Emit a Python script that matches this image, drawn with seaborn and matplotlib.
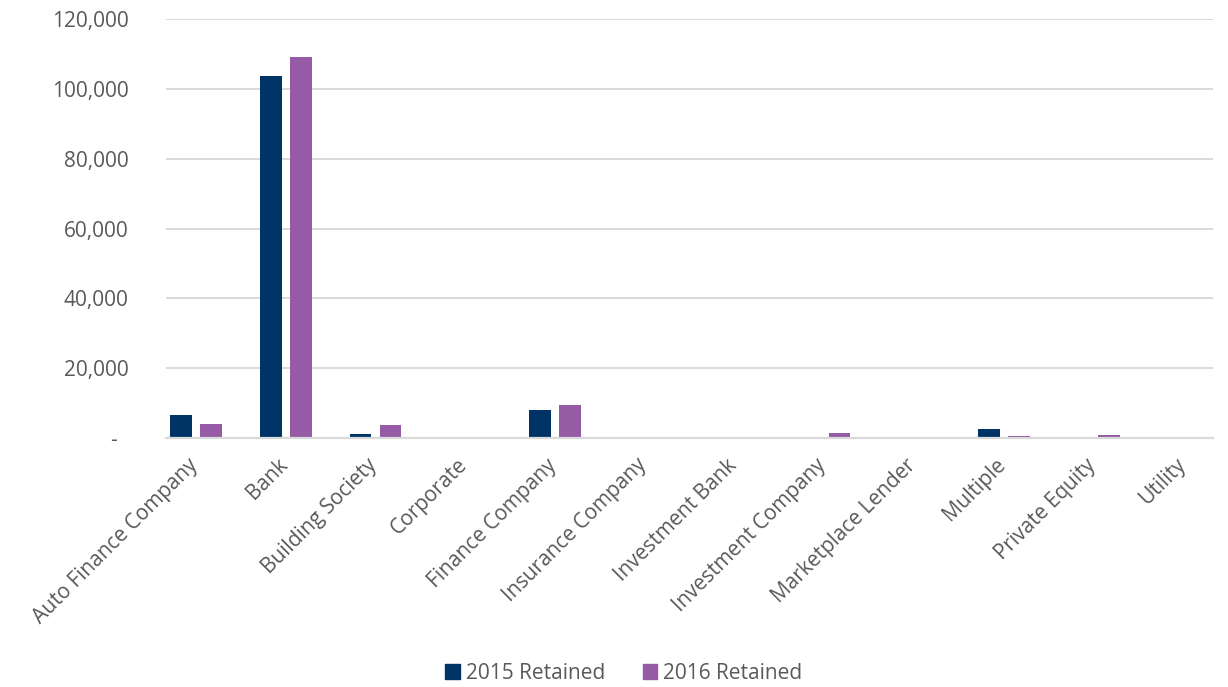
import matplotlib
matplotlib.use("Agg")
import matplotlib.pyplot as plt
from matplotlib.ticker import FuncFormatter
from matplotlib.transforms import ScaledTranslation
import pandas as pd
import seaborn as sns

categories = [
    "Auto Finance Company", "Bank", "Building Society", "Corporate",
    "Finance Company", "Insurance Company", "Investment Bank",
    "Investment Company", "Marketplace Lender", "Multiple",
    "Private Equity", "Utility",
]
retained_2015 = [6600, 103700, 1150, 0, 8000, 0, 0, 150, 0, 2650, 0, 0]
retained_2016 = [3900, 109100, 3600, 0, 9550, 0, 120, 1400, 0, 650, 900, 0]
series_names = ["2015 Retained", "2016 Retained"]
colors = ["#003366", "#955BA5"]
yticks = [0, 20000, 40000, 60000, 80000, 100000, 120000]

df = pd.DataFrame({
    "category": categories * 2,
    "value": retained_2015 + retained_2016,
    "series": [series_names[0]] * len(categories) + [series_names[1]] * len(categories),
})

sns.set_theme(style="white")
plt.rcParams["font.family"] = ["Open Sans", "DejaVu Sans"]
text_grey = "#595959"

fig = plt.figure(figsize=(12.28, 6.87), dpi=100)
ax = fig.add_axes([0.1352, 0.3624, 0.8526, 0.6099])

sns.barplot(
    data=df, x="category", y="value", hue="series",
    order=categories, hue_order=series_names, palette=colors,
    width=0.668, gap=0.275, saturation=1, linewidth=0, ax=ax,
    legend=False,
)

ax.set_xlim(-0.334, 11.325)
ax.set_ylim(0, 120000)
ax.set_yticks(yticks)
ax.yaxis.set_major_formatter(
    FuncFormatter(lambda v, _: "-  " if v == 0 else f"{int(v):,}")
)
ax.grid(axis="y", color="#d9d9d9", linewidth=1.4)
ax.set_axisbelow(True)
for side in ["top", "right", "left"]:
    ax.spines[side].set_visible(False)
ax.spines["bottom"].set_color("#d9d9d9")
ax.spines["bottom"].set_linewidth(1.6)
ax.set_xlabel("")
ax.set_ylabel("")
ax.tick_params(axis="y", length=0, pad=27, labelsize=15, labelcolor=text_grey)
ax.tick_params(axis="x", length=0, pad=12, labelsize=15, labelcolor=text_grey)
shift = ScaledTranslation(-9 / 100, 0, fig.dpi_scale_trans)
for lbl in ax.get_xticklabels():
    lbl.set_rotation(45)
    lbl.set_ha("right")
    lbl.set_va("top")
    lbl.set_rotation_mode("anchor")
    lbl.set_transform(lbl.get_transform() + shift)

handles = [plt.Rectangle((0, 0), 1, 1, color=c) for c in colors]
fig.legend(
    handles, series_names, loc="center", bbox_to_anchor=(0.508, 0.02),
    ncol=2, frameon=False, fontsize=15, labelcolor=text_grey,
    handlelength=0.7, handleheight=0.7, handletextpad=0.3, columnspacing=1.8,
)

fig.savefig("out.png", dpi=100)
